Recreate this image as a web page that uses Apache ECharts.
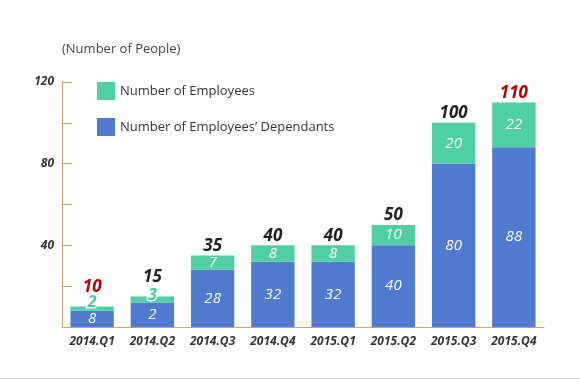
<!DOCTYPE html>
<html><head><meta charset="utf-8">
<script src="https://cdn.jsdelivr.net/npm/echarts@6/dist/echarts.min.js"></script>
<style>html,body{margin:0;padding:0;background:#fff}#c{width:580px;height:380px}</style>
</head><body><div id="c"></div>
<script>
var categories = ['2014.Q1','2014.Q2','2014.Q3','2014.Q4','2015.Q1','2015.Q2','2015.Q3','2015.Q4'];
var dependants = [8, 12, 28, 32, 32, 40, 80, 88];
var dependantLabels = ['8', '2', '28', '32', '32', '40', '80', '88'];
var employees = [2, 3, 7, 8, 8, 10, 20, 22];
var totals = [10, 15, 35, 40, 40, 50, 100, 110];
var highlightTotals = [true, false, false, false, false, false, false, true];
var yTickLabels = {40: '40', 80: '80', 120: '120'};

var GREEN = '#4fcfa3', BLUE = '#4f7ace', AXIS = '#c9a56b';
var FONT = '"Open Sans", "Noto Sans", sans-serif';

var chart = echarts.init(document.getElementById('c'), null, {renderer: 'canvas'});
var inLabel = {show: true, position: 'inside', color: '#fff', fontStyle: 'italic', fontSize: 15, fontFamily: FONT};

chart.setOption({
  animation: false,
  textStyle: {fontFamily: FONT},
  title: {text: '(Number of People)', left: 57, top: 38, textStyle: {fontSize: 13, fontWeight: 'normal', color: '#444', fontFamily: FONT}},
  legend: {
    left: 92, top: 77, orient: 'vertical', itemWidth: 18, itemHeight: 18, itemGap: 18,
    textStyle: {fontSize: 13, color: '#333', fontFamily: FONT},
    data: [{name: 'Number of Employees', icon: 'rect'}, {name: 'Number of Employees’ Dependants', icon: 'rect'}]
  },
  grid: {left: 62, right: 36, top: 82, bottom: 53},
  xAxis: {
    type: 'category', data: categories,
    axisLine: {lineStyle: {color: AXIS, width: 1}},
    axisTick: {inside: true, length: 5, lineStyle: {color: AXIS}},
    axisLabel: {color: '#333', fontStyle: 'italic', fontWeight: 'bold', fontSize: 12, margin: 9, fontFamily: FONT}
  },
  yAxis: {
    type: 'value', min: 0, max: 120, interval: 20,
    axisLine: {show: true, lineStyle: {color: AXIS}},
    axisTick: {show: true, inside: true, length: 10, lineStyle: {color: AXIS}},
    splitLine: {show: false},
    axisLabel: {color: '#333', fontStyle: 'italic', fontWeight: 'bold', fontSize: 12, margin: 8, fontFamily: FONT,
      formatter: function (v) { return yTickLabels[v] || ''; }}
  },
  series: [
    {
      name: 'Number of Employees’ Dependants', type: 'bar', stack: 's', barWidth: '72%',
      itemStyle: {color: BLUE},
      label: Object.assign({}, inLabel, {formatter: function (p) { return dependantLabels[p.dataIndex]; }}),
      data: dependants
    },
    {
      name: 'Number of Employees', type: 'bar', stack: 's',
      itemStyle: {color: GREEN},
      label: inLabel,
      data: employees.map(function (v, i) {
        if (v <= 3) {
          return {value: v, label: {show: true, position: 'inside', color: '#3fcf9a', textBorderColor: '#ffffff', textBorderWidth: 3,
            fontSize: 16, fontStyle: 'italic', fontWeight: 'bold', offset: [0, i === 0 ? -6 : -4]}};
        }
        return v;
      })
    },
    {
      name: 'total', type: 'bar', stack: 's', silent: true,
      itemStyle: {color: 'transparent'},
      label: {show: true, position: 'top', distance: 1, fontSize: 17, fontStyle: 'italic', fontWeight: 'bold', fontFamily: FONT, color: '#222',
        formatter: function (p) { return String(totals[p.dataIndex]); }},
      data: totals.map(function (t, i) {
        var item = {value: 0, label: {}};
        if (highlightTotals[i]) item.label.color = '#b30000';
        if (employees[i] <= 3) item.label.distance = 11;
        return item;
      })
    }
  ],
  graphic: [{type: 'line', shape: {x1: 0, y1: 378.5, x2: 580, y2: 378.5}, style: {stroke: '#dddddd', lineWidth: 1}}]
});
</script></body></html>
